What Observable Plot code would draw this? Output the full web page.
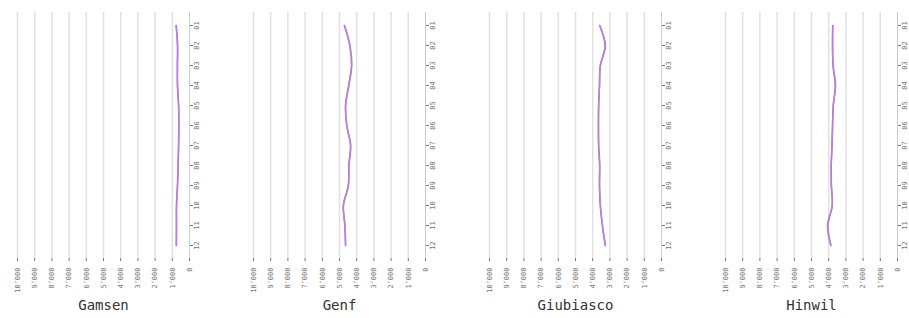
<!DOCTYPE html>
<html><head><meta charset="utf-8">
<script src="https://cdn.jsdelivr.net/npm/d3@7"></script>
<script src="https://cdn.jsdelivr.net/npm/@observablehq/plot@0.6"></script>
<style>body{margin:0;background:#fff;} #chart{width:909px;height:318px;}</style>
</head><body><div id="chart"></div>
<script>
const stations = ["Gamsen", "Genf", "Giubiasco", "Hinwil"];
const months = ["01","02","03","04","05","06","07","08","09","10","11","12"];
const xTicks = [0,1000,2000,3000,4000,5000,6000,7000,8000,9000,10000];

const gamsenMain    = [780,700,700,700,640,620,640,670,700,760,760,760];
const gamsenRef     = [770,690,705,695,630,615,630,660,695,750,755,765];
const genfMain      = [4720,4390,4290,4450,4640,4580,4350,4450,4490,4780,4680,4640];
const genfRef       = [4710,4400,4300,4470,4650,4570,4360,4460,4480,4770,4690,4650];
const giubiascoMain = [3600,3260,3550,3600,3660,3660,3660,3600,3600,3550,3430,3260];
const giubiascoRef  = [3590,3280,3560,3610,3650,3670,3650,3590,3610,3560,3440,3270];
const hinwilMain    = [3770,3770,3740,3600,3740,3770,3800,3860,3840,3800,4070,3880];
const hinwilRef     = [3760,3780,3750,3620,3730,3780,3810,3850,3850,3790,4050,3870];

const mains = [gamsenMain, genfMain, giubiascoMain, hinwilMain];
const refs  = [gamsenRef, genfRef, giubiascoRef, hinwilRef];

const mainData = [], refData = [];
stations.forEach((s, i) => months.forEach((m, j) => {
  mainData.push({station: s, month: m, value: mains[i][j]});
  refData.push({station: s, month: m, value: refs[i][j]});
}));

const fmt = d => d3.format(",")(d).replace(/,/g, "’");

const chart = Plot.plot({
  width: 909, height: 318,
  marginTop: 12, marginBottom: 60, marginLeft: 17, marginRight: 12,
  style: {fontFamily: "DejaVu Sans Mono", fontSize: "7px", background: "#fff"},
  fx: {domain: stations, paddingInner: 0.2712, paddingOuter: 0, axis: null},
  x: {domain: [0, 10000], reverse: true, axis: null},
  y: {type: "point", domain: months, padding: 0.385, axis: null},
  marks: [
    Plot.gridX(xTicks.slice(1), {stroke: "#aaa", strokeOpacity: 0.35, strokeWidth: 1.5}),
    Plot.ruleX([0], {stroke: "#ccc"}),
    Plot.axisX({ticks: xTicks, tickRotate: -90, tickFormat: fmt, tickSize: 3, color: "#777", fontSize: 7, label: null}),
    Plot.axisY({anchor: "right", facetAnchor: null, tickRotate: -90, tickSize: 3, color: "#777", fontSize: 7, label: null}),
    Plot.line(refData, {x: "value", y: "month", fx: "station", stroke: "#888", strokeWidth: 1.5, curve: "catmull-rom"}),
    Plot.line(mainData, {x: "value", y: "month", fx: "station", stroke: "#c27ae8", strokeWidth: 1.5, curve: "catmull-rom"}),
    Plot.text(stations, {fx: d => d, text: d => d, frameAnchor: "bottom", dy: 51, fontSize: 14, fill: "#333"})
  ]
});
document.getElementById("chart").append(chart);
</script>
</body></html>
